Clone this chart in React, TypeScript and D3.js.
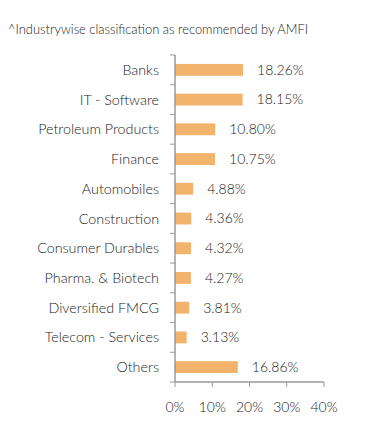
import React from "react";
import * as d3 from "d3";

const categories = [
  "Banks",
  "IT - Software",
  "Petroleum Products",
  "Finance",
  "Automobiles",
  "Construction",
  "Consumer Durables",
  "Pharma. & Biotech",
  "Diversified FMCG",
  "Telecom - Services",
  "Others",
];
const values = [18.26, 18.15, 10.8, 10.75, 4.88, 4.36, 4.32, 4.27, 3.81, 3.13, 16.86];
const xTicks = [0, 10, 20, 30, 40];
const title = "^Industrywise classification as recommended by AMFI";

const W = 391;
const H = 436;
const font = "Lato, 'Open Sans', sans-serif";
const textColor = "#1a1a1a";
const axisColor = "#9a9a9a";
const barColor = "#f2b36c";

export default function App() {
  const x = d3.scaleLinear().domain([0, 40]).range([175, 324]);
  const y = d3.scaleBand<string>().domain(categories).range([55, 382]).paddingInner(0.6).paddingOuter(0.3);
  const step = y.step();
  const bounds = d3.range(categories.length + 1).map((i) => 55 + i * step);

  return (
    <svg
      width={W}
      height={H}
      style={{ position: "absolute", left: 0, top: 0, background: "#fff" }}
      fontFamily={font}
      fontWeight={300}
    >
      <text x={8} y={34} fontSize={12.9} fill={textColor}>
        {title}
      </text>
      {categories.map((c, i) => (
        <g key={c}>
          <rect x={x(0)} y={y(c)} width={x(values[i]) - x(0)} height={y.bandwidth()} fill={barColor} />
          <text
            x={159}
            y={(y(c) ?? 0) + y.bandwidth() / 2}
            dy="0.35em"
            textAnchor="end"
            fontSize={14.3}
            fill={textColor}
          >
            {c}
          </text>
          <text
            x={x(values[i]) + 14}
            y={(y(c) ?? 0) + y.bandwidth() / 2}
            dy="0.35em"
            fontSize={14}
            fill={textColor}
          >
            {values[i].toFixed(2) + "%"}
          </text>
        </g>
      ))}
      <line x1={x(0)} x2={x(0)} y1={55} y2={382} stroke={axisColor} strokeWidth={1.5} />
      {bounds.map((b, i) => (
        <line key={i} x1={x(0) - 5} x2={x(0)} y1={b} y2={b} stroke={axisColor} strokeWidth={1} />
      ))}
      <line x1={x(0)} x2={x(40)} y1={382} y2={382} stroke={axisColor} strokeWidth={1.5} />
      {xTicks.map((t) => (
        <g key={t}>
          <line x1={x(t)} x2={x(t)} y1={382} y2={387} stroke={axisColor} strokeWidth={1} />
          <text x={x(t)} y={407} dy="0.35em" textAnchor="middle" fontSize={14} fill={textColor}>
            {t + "%"}
          </text>
        </g>
      ))}
    </svg>
  );
}
